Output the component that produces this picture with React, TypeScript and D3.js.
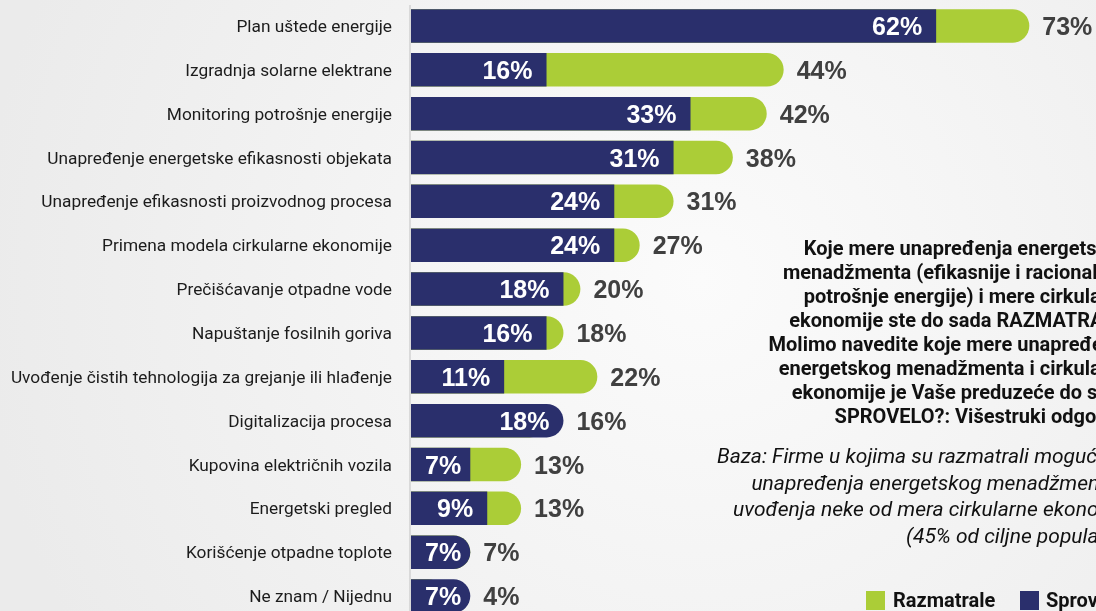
import React from "react";
import * as d3 from "d3";

// survey answers, % of firms
const categories = [
  "Plan uštede energije",
  "Izgradnja solarne elektrane",
  "Monitoring potrošnje energije",
  "Unapređenje energetske efikasnosti objekata",
  "Unapređenje efikasnosti proizvodnog procesa",
  "Primena modela cirkularne ekonomije",
  "Prečišćavanje otpadne vode",
  "Napuštanje fosilnih goriva",
  "Uvođenje čistih tehnologija za grejanje ili hlađenje",
  "Digitalizacija procesa",
  "Kupovina električnih vozila",
  "Energetski pregled",
  "Korišćenje otpadne toplote",
  "Ne znam / Nijednu",
];
const sprovele = [62, 16, 33, 31, 24, 24, 18, 16, 11, 18, 7, 9, 7, 7];
const razmatrale = [73, 44, 42, 38, 31, 27, 20, 18, 22, 16, 13, 13, 7, 4];

const questionLines = [
  "Koje mere unapređenja energetskog",
  "menadžmenta (efikasnije i racionalnije",
  "potrošnje energije) i mere cirkularne",
  "ekonomije ste do sada RAZMATRALI?",
  "Molimo navedite koje mere unapređenja",
  "energetskog menadžmenta i cirkularne",
  "ekonomije je Vaše preduzeće do sada",
  "SPROVELO?: Višestruki odgovori",
];
const bazaLines = [
  "Baza: Firme u kojima su razmatrali mogućnost",
  "unapređenja energetskog menadžmenta ili",
  "uvođenja neke od mera cirkularne ekonomije",
  "(45% od ciljne populacije)",
];

const W = 1096, H = 611;
const NAVY = "#2a2f6c";
const GREEN = "#abcd37";
const FONT = "Roboto, 'Noto Sans', sans-serif";
const VFONT = "'Liberation Sans', Arial, sans-serif";
const VSIZE = 25;

// rect with rounded right end
function rightRound(x0: number, x1: number, y: number, h: number, round: boolean) {
  const w = Math.max(0, x1 - x0);
  if (!round) return `M${x0},${y}H${x1}V${y + h}H${x0}Z`;
  const r = Math.min(h / 2, w);
  return `M${x0},${y}H${x1 - r}A${r},${r} 0 0 1 ${x1},${y + r}V${y + h - r}A${r},${r} 0 0 1 ${x1 - r},${y + h}H${x0}Z`;
}

function labelWidth(s: string) {
  let w = 0;
  for (const c of s) w += (c === "%" ? 0.889 : 0.556) * VSIZE;
  return w;
}

export default function App() {
  const x = d3.scaleLinear().domain([0, 100]).range([411, 411 + 847]);
  const y = d3.scaleBand<string>()
    .domain(categories)
    .range([4, 618])
    .paddingInner(0.236)
    .paddingOuter(0.118);
  const bh = y.bandwidth();

  return (
    <div style={{ position: "fixed", left: 0, top: 0 }}>
      <svg width={W} height={H} style={{ display: "block" }}>
        <defs>
          <radialGradient id="bg" cx="700" cy="280" r="720" gradientUnits="userSpaceOnUse">
            <stop offset="0" stopColor="#fbfbfb" />
            <stop offset="1" stopColor="#ebebeb" />
          </radialGradient>
        </defs>
        <rect width={W} height={H} fill="url(#bg)" />
        <line x1={x(0) - 1} x2={x(0) - 1} y1={5} y2={H} stroke="#c9c9c9" strokeWidth={1.2} />

        {categories.map((c, i) => {
          const y0 = y(c)!;
          const cy = y0 + bh / 2;
          const s = sprovele[i], r = razmatrale[i];
          const sl = s + "%", rl = r + "%";
          const sEnd = Math.max(x(s) - 14, x(0) + labelWidth(sl) + 14);
          return (
            <g key={c}>
              <text x={392} y={cy} dy="0.35em" textAnchor="end" fontFamily={FONT} fontSize={17.3} fill="#1c1c1c">
                {c}
              </text>
              <path d={rightRound(x(0), x(r), y0, bh, true)} fill={GREEN} />
              <path d={rightRound(x(0), x(s), y0, bh, s >= r)} fill={NAVY} />
              <text x={sEnd} y={cy} dy="0.36em" textAnchor="end" fontFamily={VFONT} fontWeight="bold" fontSize={VSIZE} fill="#fff">
                {sl}
              </text>
              <text x={x(Math.max(s, r)) + 13} y={cy} dy="0.36em" fontFamily={VFONT} fontWeight="bold" fontSize={VSIZE} fill="#404040">
                {rl}
              </text>
            </g>
          );
        })}

        <text fontFamily={FONT} fontWeight="bold" fontSize={20} fill="#111" textAnchor="end">
          {questionLines.map((l, i) => (
            <tspan key={i} x={1130} y={255 + i * 24}>{l}</tspan>
          ))}
        </text>
        <text fontFamily={FONT} fontStyle="italic" fontSize={21} fill="#111" textAnchor="end">
          {bazaLines.map((l, i) => (
            <tspan key={i} x={1137} y={463 + i * 26.7}>{l}</tspan>
          ))}
        </text>

        <rect x={866} y={591} width={19} height={19} fill={GREEN} />
        <text x={893} y={607} fontFamily={FONT} fontWeight="bold" fontSize={20} fill="#111">Razmatrale</text>
        <rect x={1020} y={591} width={19} height={19} fill={NAVY} />
        <text x={1046} y={607} fontFamily={FONT} fontWeight="bold" fontSize={20} fill="#111">Sprovele</text>
      </svg>
    </div>
  );
}
